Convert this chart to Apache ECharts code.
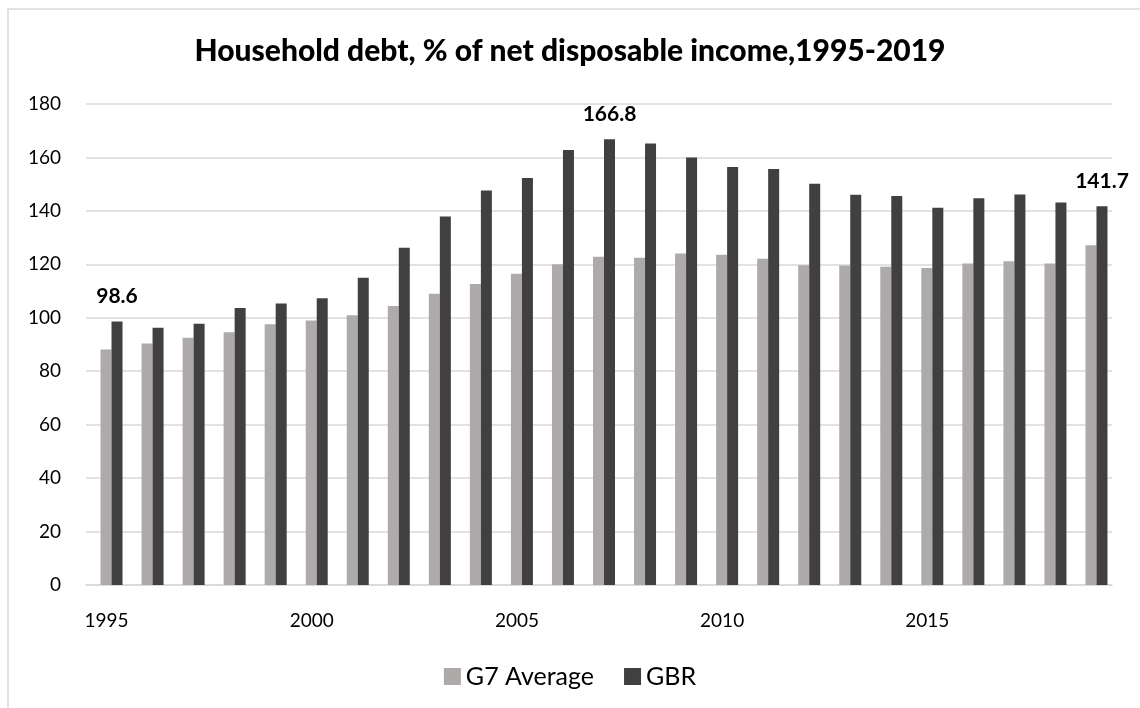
<!DOCTYPE html>
<html>
<head>
<meta charset="utf-8">
<script src="https://cdn.jsdelivr.net/npm/echarts@6/dist/echarts.min.js"></script>
<style>
html,body{margin:0;padding:0;background:#fff;}
#chart{width:1140px;height:708px;}
</style>
</head>
<body>
<div id="chart"></div>
<script>
const years = ['1995','1996','1997','1998','1999','2000','2001','2002','2003','2004','2005','2006','2007','2008','2009','2010','2011','2012','2013','2014','2015','2016','2017','2018','2019'];
const g7Average = [88.1,90.4,92.5,94.6,97.6,99.0,100.9,104.4,109.0,112.6,116.5,120.0,122.8,122.5,124.1,123.6,122.1,119.7,119.6,119.1,118.6,120.3,121.2,120.3,127.1];
const gbr = [98.6,96.3,97.8,103.7,105.3,107.3,115.0,126.2,137.9,147.6,152.3,162.8,166.8,165.2,160.0,156.4,155.7,150.2,146.0,145.6,141.2,144.7,146.1,143.1,141.7];
const labelledYears = ['1995','2007','2019'];
const yTicks = {min:0, max:180, interval:20};

const fontFam = 'Lato, "Open Sans", sans-serif';
const gbrData = gbr.map((v,i)=> labelledYears.includes(years[i])
  ? {value:v, label:{show:true, position:'top', distance:15, formatter:(p)=>p.value.toFixed(1), fontFamily:fontFam, fontWeight:'bold', fontSize:21, color:'#000'}}
  : v);

const chart = echarts.init(document.getElementById('chart'));
chart.setOption({
  animation:false,
  backgroundColor:'#fff',
  graphic:[{type:'rect', shape:{x:8, y:9, width:1200, height:800}, style:{fill:'none', stroke:'#d9d9d9', lineWidth:1.5}, silent:true, z:-1}],
  title:{text:'Household debt, % of net disposable income,1995-2019', left:'center', top:31,
    textStyle:{fontFamily:fontFam, fontWeight:900, fontSize:30, color:'#000'}},
  legend:{bottom:14, left:'center', itemWidth:17, itemHeight:17, itemGap:30, icon:'rect',
    textStyle:{fontFamily:fontFam, fontSize:25, color:'#000'}},
  grid:[
    {left:86, right:28, top:104, bottom:123},
    {left:91, right:23, top:104, bottom:123}
  ],
  xAxis:[
    {type:'category', data:years, gridIndex:0,
      axisLine:{show:true, lineStyle:{color:'#d9d9d9', width:1.5}},
      axisTick:{show:false},
      axisLabel:{interval:4, fontFamily:fontFam, fontSize:19, color:'#000', margin:26}},
    {type:'category', data:years, gridIndex:1, show:false}
  ],
  yAxis:[
    {type:'value', gridIndex:0, min:yTicks.min, max:yTicks.max, interval:yTicks.interval,
      axisLine:{show:false}, axisTick:{show:false},
      splitLine:{lineStyle:{color:'#d9d9d9', width:1.5}},
      axisLabel:{fontFamily:fontFam, fontSize:19, color:'#000', margin:25}},
    {type:'value', gridIndex:1, min:yTicks.min, max:yTicks.max, interval:yTicks.interval, show:false, splitLine:{show:false}}
  ],
  series:[
    {name:'G7 Average', type:'bar', xAxisIndex:1, yAxisIndex:1, data:g7Average, barWidth:11, barGap:'0%', itemStyle:{color:'#aeaaaa'}},
    {name:'GBR', type:'bar', xAxisIndex:1, yAxisIndex:1, data:gbrData, barWidth:11, barGap:'0%', itemStyle:{color:'#404040'}}
  ]
});
</script>
</body>
</html>
